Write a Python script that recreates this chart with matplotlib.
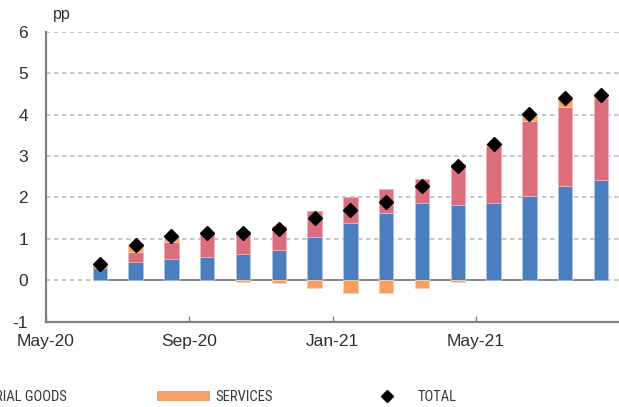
import numpy as np
import matplotlib
matplotlib.use('Agg')
import matplotlib.pyplot as plt
from matplotlib.patches import Patch
from matplotlib.lines import Line2D

plt.rcParams['font.family'] = ['Liberation Sans', 'DejaVu Sans']
plt.rcParams['axes.unicode_minus'] = False

# monthly contributions, pp (Jun-20 .. Aug-21)
months = ['Jun-20', 'Jul-20', 'Aug-20', 'Sep-20', 'Oct-20', 'Nov-20', 'Dec-20',
          'Jan-21', 'Feb-21', 'Mar-21', 'Apr-21', 'May-21', 'Jun-21', 'Jul-21', 'Aug-21']
industrial_goods = [0.30, 0.45, 0.50, 0.57, 0.63, 0.72, 1.04, 1.37, 1.62, 1.86, 1.81, 1.86, 2.04, 2.28, 2.43]
energy = [0.05, 0.22, 0.43, 0.54, 0.56, 0.58, 0.63, 0.64, 0.57, 0.59, 0.99, 1.37, 1.81, 1.91, 1.98]
services = [0.04, 0.20, 0.14, 0.04, -0.04, -0.07, -0.18, -0.31, -0.31, -0.19, -0.04, 0.05, 0.16, 0.20, 0.06]
total = [0.40, 0.86, 1.06, 1.15, 1.14, 1.24, 1.49, 1.69, 1.88, 2.27, 2.76, 3.28, 4.01, 4.40, 4.48]

tick_labels = ['May-20', 'Sep-20', 'Jan-21', 'May-21']

BLUE = '#4a7ebf'
PINK = '#dc6d7c'
ORANGE = '#f89f63'
GRID = '#bdbdbd'
AXIS = '#808080'
TXT = '#2e2e2e'

fig = plt.figure(figsize=(6.19, 4.07), dpi=100)
ax = fig.add_axes([46 / 619, 1 - 321.6 / 407, 1 - 46 / 619, (321.6 - 31.7) / 407])

# bars centred mid-month, ticks on month starts (May-20 = 0)
x = np.arange(len(months)) + 1.5
w = 0.4
ig = np.array(industrial_goods)
en = np.array(energy)
sv = np.array(services)
sv_bottom = np.where(sv >= 0, ig + en, 0)

for y in range(0, 7):
    ax.axhline(y, color=GRID, lw=1.2, ls=(0, (2.7, 2.1)), zorder=0)
ax.hlines(0, x[0] - w / 2, x[-1] + w / 2, color=AXIS, lw=1.3, zorder=1)

ax.bar(x, ig, w, color=BLUE, edgecolor='#a9c3e6', lw=0.6, zorder=2)
ax.bar(x, en, w, bottom=ig, color=PINK, edgecolor='#eeb2ba', lw=0.6, zorder=2)
ax.bar(x, sv, w, bottom=sv_bottom, color=ORANGE, edgecolor='#fbcfb0', lw=0.6, zorder=2)
ax.plot(x, total, ls='none', marker='D', ms=7, color='black', zorder=3)

ax.set_xlim(0, 16)
ax.set_ylim(-1, 6)
ax.set_yticks(range(-1, 7))
ax.set_xticks([0, 4, 8, 12])
ax.set_xticklabels(tick_labels)

for s in ['top', 'right']:
    ax.spines[s].set_visible(False)
for s in ['left', 'bottom']:
    ax.spines[s].set_color(AXIS)
    ax.spines[s].set_linewidth(1.6)

ax.tick_params(axis='y', length=0, pad=13, labelsize=12.5, labelcolor=TXT)
ax.tick_params(axis='x', direction='in', length=4, width=1, color=AXIS, pad=9,
               labelsize=12.5, labelcolor=TXT)

fig.text(53 / 619, 1 - 15 / 407, 'pp', fontsize=11.5, color=TXT, va='center', ha='left')

# legend: one entry per legend so each sits where the original has it
leg_font = {'family': ['Roboto Condensed', 'DejaVu Sans'], 'size': 10.5}
leg_y = 1 - 397 / 407
common = dict(frameon=False, borderpad=0, borderaxespad=0, prop=leg_font,
              handleheight=0.68)
entries = [
    (Patch(facecolor=BLUE, edgecolor='none'), 'INDUSTRIAL GOODS', 'center right', 67, 3.6, 0.42),
    (Patch(facecolor=ORANGE, edgecolor='none'), 'SERVICES', 'center left', 157, 3.6, 0.42),
    (Line2D([], [], ls='none', marker='D', ms=6, color='black'), 'TOTAL', 'center left', 379.7, 1.0, 1.6),
]
for h, lab, loc, px, hl, pad in entries:
    lg = fig.legend([h], [lab], loc=loc, bbox_to_anchor=(px / 619, leg_y),
                    handlelength=hl, handletextpad=pad, **common)
    for t in lg.get_texts():
        t.set_color('#3a3a3a')

fig.savefig('out.png', dpi=100)
